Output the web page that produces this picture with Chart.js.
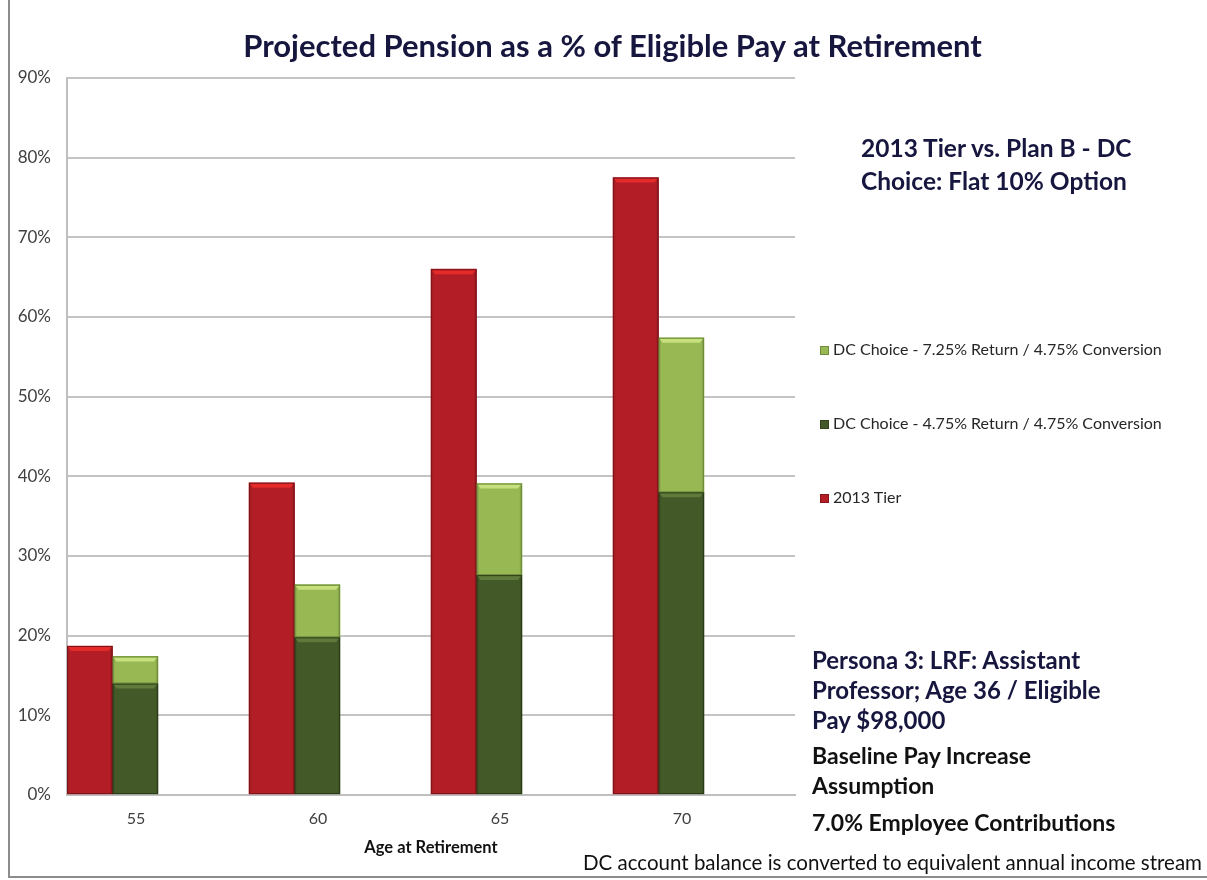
<!DOCTYPE html>
<html>
<head>
<meta charset="utf-8">
<script src="https://cdn.jsdelivr.net/npm/chart.js@4.4.0/dist/chart.umd.min.js"></script>
<style>
  body { margin: 0; background: #fff; font-family: Lato, "Open Sans", sans-serif; }
  #wrap { position: relative; width: 1207px; height: 880px; overflow: hidden; }
  #frame { position: absolute; left: 8px; top: -10px; width: 1300px; height: 888px; border: 2px solid #8c8c8c; box-sizing: border-box; }
  canvas { position: absolute; left: 0; top: 0; }
  #title { position: absolute; left: 9px; width: 1207px; top: 27px; text-align: center; font-size: 31px; line-height: 36px; font-weight: bold; color: #16163f; }
  .note { position: absolute; font-weight: bold; white-space: nowrap; }
  #legend { position: absolute; left: 820px; top: 0; }
  .lg { position: absolute; left: 0; white-space: nowrap; font-size: 16px; line-height: 20px; color: #262626; }
  .lg span.box { display: inline-block; width: 9px; height: 9px; margin-right: 4px; vertical-align: 0px; box-shadow: inset 0 0 0 1px rgba(0,0,0,0.25); }
</style>
</head>
<body>
<div id="wrap">
  <div id="frame"></div>
  <canvas id="chart" width="1207" height="880"></canvas>
  <div id="title">Projected Pension as a % of Eligible Pay at Retirement</div>
  <div id="legend"></div>
  <div class="note" style="left:861px; top:131px; font-size:24.5px; line-height:33px; color:#16163f;">2013 Tier vs. Plan B - DC<br>Choice: Flat 10% Option</div>
  <div class="note" style="left:812px; top:645px; font-size:24px; line-height:30px; color:#16163f;">Persona 3: LRF: Assistant<br>Professor; Age 36 / Eligible<br>Pay $98,000</div>
  <div class="note" style="left:812px; top:740px; font-size:23px; line-height:30px; color:#111;">Baseline Pay Increase<br>Assumption</div>
  <div class="note" style="left:812px; top:807px; font-size:23px; line-height:30px; color:#111;">7.0% Employee Contributions</div>
  <div class="note" style="left:583px; top:850px; font-size:20.5px; line-height:24px; font-weight:normal; color:#111;">DC account balance is converted to equivalent annual income stream</div>
</div>
<script>
// values (percent of eligible pay)
var ages = ['55', '60', '65', '70'];
var tier2013 = [18.7, 39.2, 66.0, 77.5];
var dcLowReturn = [14.0, 19.8, 27.6, 38.0];      // 4.75% return / 4.75% conversion
var dcHighExtra = [3.4, 6.6, 11.5, 19.4];        // extra on top for 7.25% return
var yMax = 90;
var yStep = 10;

var seriesNames = ['2013 Tier', 'DC Choice - 4.75% Return / 4.75% Conversion', 'DC Choice - 7.25% Return / 4.75% Conversion'];
var seriesColors = ['#b31e26', '#435a28', '#97b853'];
var seriesTops = ['#e52a2a', '#5f7a3a', '#c6e07e'];
var seriesEdges = ['#7d1418', '#2b3a18', '#6f8c3a'];

// draws the little bevel look Excel gives the bars
var bevel = {
  id: 'bevel',
  afterDatasetsDraw: function(chart) {
    var ctx = chart.ctx;
    chart.data.datasets.forEach(function(ds, i) {
      if (ds.pad) return;
      var meta = chart.getDatasetMeta(i);
      meta.data.forEach(function(el) {
        var l = el.x - el.width / 2, w = el.width, t = el.y, b = el.base;
        if (b - t < 2) return;
        ctx.save();
        var g = ctx.createLinearGradient(l, 0, l + w, 0);
        g.addColorStop(0, 'rgba(0,0,0,0.18)');
        g.addColorStop(0.06, 'rgba(0,0,0,0)');
        g.addColorStop(0.94, 'rgba(0,0,0,0)');
        g.addColorStop(1, 'rgba(0,0,0,0.22)');
        ctx.fillStyle = g;
        ctx.fillRect(l, t, w, b - t);
        ctx.fillStyle = seriesTops[i];
        ctx.beginPath();
        ctx.moveTo(l + 1, t + 1);
        ctx.lineTo(l + w - 1, t + 1);
        ctx.lineTo(l + w - 4, t + 5);
        ctx.lineTo(l + 4, t + 5);
        ctx.closePath();
        ctx.fill();
        ctx.strokeStyle = seriesEdges[i];
        ctx.lineWidth = 1;
        ctx.strokeRect(l + 0.5, t + 0.5, w - 1, b - t - 1);
        ctx.restore();
      });
    });
  }
};

var ctx = document.getElementById('chart').getContext('2d');
var chart = new Chart(ctx, {
  type: 'bar',
  data: {
    labels: ages,
    datasets: [
      { label: seriesNames[0], data: tier2013, stack: 'tier', backgroundColor: seriesColors[0] },
      { label: seriesNames[1], data: dcLowReturn, stack: 'dc', backgroundColor: seriesColors[1] },
      { label: seriesNames[2], data: dcHighExtra, stack: 'dc', backgroundColor: seriesColors[2] },
      // empty slots, Excel leaves the right half of each category blank
      { label: '', data: [null, null, null, null], stack: 'pad1', pad: true },
      { label: '', data: [null, null, null, null], stack: 'pad2', pad: true }
    ]
  },
  options: {
    responsive: false,
    animation: false,
    layout: { padding: { left: 14, right: 412, top: 78, bottom: 14 } },
    datasets: { bar: { categoryPercentage: 1, barPercentage: 1 } },
    plugins: {
      legend: { display: false },
      tooltip: { enabled: false }
    },
    scales: {
      x: {
        stacked: true,
        grid: { display: false },
        border: { display: true, color: '#bfbfbf', width: 2 },
        ticks: { color: '#404040', font: { family: 'Lato', size: 16 }, labelOffset: -22, padding: 6 },
        title: { display: true, text: 'Age at Retirement', color: '#111', font: { family: 'Lato', size: 16.5, weight: 'bold' }, padding: { top: 4, bottom: 8 } },
        afterFit: function(s) { s.height = 880 - 795 - 14; }
      },
      y: {
        stacked: true,
        min: 0,
        max: yMax,
        grid: { color: '#c4c4c4', lineWidth: 2, drawTicks: false },
        border: { display: true, color: '#bfbfbf', width: 2 },
        ticks: { stepSize: yStep, color: '#404040', font: { family: 'Lato', size: 17 }, padding: 16,
          callback: function(v) { return v + '%'; } },
        afterFit: function(s) { s.width = 67 - 14; }
      }
    }
  },
  plugins: [bevel]
});

// legend on the right, top entry is the last series
var lg = document.getElementById('legend');
var lgY = [349, 423, 497];
[2, 1, 0].forEach(function(i, k) {
  var d = document.createElement('div');
  d.className = 'lg';
  d.style.top = (lgY[k] - 10) + 'px';
  d.innerHTML = '<span class="box" style="background:' + seriesColors[i] + '"></span>' + chart.data.datasets[i].label;
  lg.appendChild(d);
});
</script>
</body>
</html>
